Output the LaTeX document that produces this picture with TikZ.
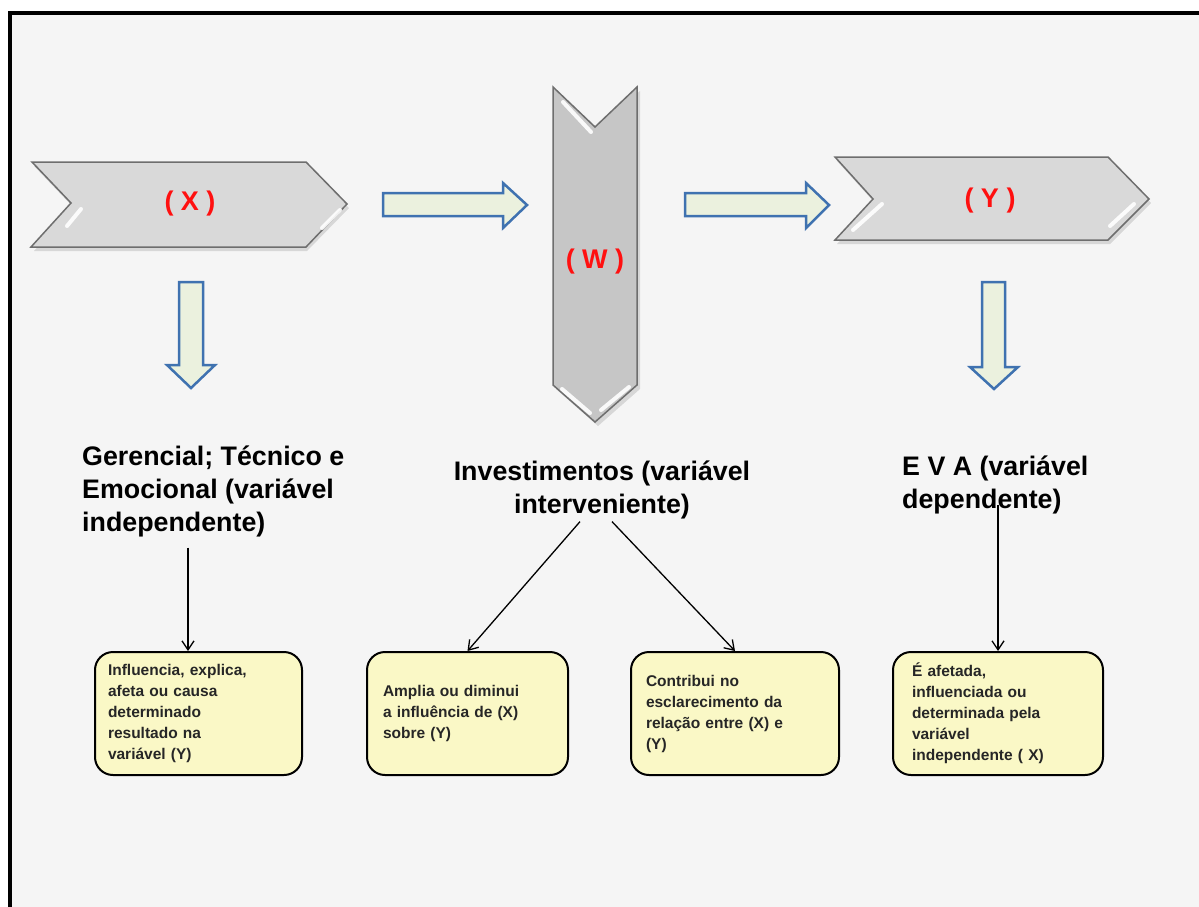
\documentclass[tikz,border=0pt]{standalone}
\usepackage{fontspec}
\setmainfont{Liberation Sans}
\usetikzlibrary{arrows.meta}

\definecolor{panel}{HTML}{F5F5F5}
\definecolor{chevfill}{HTML}{D9D9D9}
\definecolor{chevdark}{HTML}{C6C6C6}
\definecolor{chevline}{HTML}{6E6E6E}
\definecolor{arrowfill}{HTML}{EBF1DE}
\definecolor{arrowline}{HTML}{3F72B0}
\definecolor{notefill}{HTML}{FAF8C6}
\definecolor{labelred}{HTML}{FF1010}

\tikzset{
  chevron/.style={draw=chevline, line width=1.5pt, line join=miter},
  chevshadow/.style={fill=black, opacity=0.12},
  gloss/.style={white, line width=4pt, line cap=round, opacity=0.9},
  blockarrow/.style={fill=arrowfill, draw=arrowline, line width=2.5pt, line join=miter},
  varlabel/.style={text=labelred, font=\fontsize{27}{30}\selectfont\bfseries, inner sep=0pt},
  heading/.style={font=\fontsize{26.8}{33}\selectfont\bfseries, inner sep=0pt, text=black},
  note/.style={draw=black, line width=2pt, fill=notefill, rounded corners=18pt,
    minimum height=123pt, align=left, inner ysep=0pt,
    font=\fontsize{15.5}{21}\selectfont\bfseries, text=black!85},
  link/.style={-{Straight Barb[length=9pt,width=12pt]}, line width=1.3pt, black}
}

\begin{document}
\begin{tikzpicture}[x=1pt, y=-1pt]
\useasboundingbox (0,0) rectangle (1199,906);
\clip (0,0) rectangle (1199,906);

% frame and panel
\fill[white] (0,0) rectangle (1199,906);
\fill[panel] (10,13) rectangle (1210,920);
\draw[line width=4.5pt, line join=miter] (10,920) -- (10,13) -- (1210,13);

% chevron X
\fill[chevshadow] (34,166) -- (307,166) -- (349,208) -- (307,251) -- (34,251) -- (74,208) -- cycle;
\draw[chevron, fill=chevfill] (32,162) -- (306,162) -- (347,204) -- (306,247) -- (31,247) -- (71,203) -- cycle;
\draw[gloss] (81,209) -- (67,226);
\draw[gloss] (340,210) -- (322,228);
\node[varlabel] (x) at (190,204) {( X )};

% chevron W
\fill[chevshadow] (556,91) -- (598,131) -- (640,91) -- (640,389) -- (598,426) -- (556,389) -- cycle;
\draw[chevron, fill=chevdark] (553,87) -- (595,127) -- (637,87) -- (637,385) -- (595,422) -- (553,385) -- cycle;
\draw[gloss] (563,102) -- (591,132);
\draw[gloss] (562,389) -- (590,413);
\draw[gloss] (629,387) -- (601,410);
\node[varlabel] (w) at (595,262) {( W )};

% chevron Y
\fill[chevshadow] (837,161) -- (1110,161) -- (1151,203) -- (1110,244) -- (837,244) -- (875,203) -- cycle;
\draw[chevron, fill=chevfill] (835,157) -- (1108,157) -- (1149,199) -- (1108,240) -- (835,240) -- (873,199) -- cycle;
\draw[gloss] (882,204) -- (853,230);
\draw[gloss] (1134,204) -- (1110,226);
\node[varlabel] (y) at (990,201) {( Y )};

% block arrows
\draw[blockarrow] (383,193) -- (503,193) -- (503,183) -- (527,205) -- (503,228) -- (503,216) -- (383,216) -- cycle;
\draw[blockarrow] (685,193) -- (806,193) -- (806,183) -- (829,205) -- (806,228) -- (806,216) -- (685,216) -- cycle;
\draw[blockarrow] (179,282) -- (203,282) -- (203,365) -- (215,365) -- (191,388) -- (167,365) -- (179,365) -- cycle;
\draw[blockarrow] (982,282) -- (1005,282) -- (1005,367) -- (1018,367) -- (994,389) -- (970,367) -- (982,367) -- cycle;

% headings
\node[heading, anchor=north west, align=left] (h1) at (82,446)
  {Gerencial; Técnico e\\Emocional (variável\\independente)};
\node[heading, anchor=north, align=center] (h2) at (602,461)
  {Investimentos (variável\\interveniente)};
\node[heading, anchor=north west, align=left] (h3) at (902,456)
  {E V A (variável\\dependente)};

% notes
\node[note, minimum width=207pt, text width=181pt, inner xsep=13pt] (n1) at (198.5,713.5)
  {Influencia, explica,\\afeta ou causa\\determinado\\resultado na\\variável (Y)};
\node[note, minimum width=201pt, text width=169pt, inner xsep=16pt] (n2) at (467.5,713.5)
  {Amplia ou diminui\\a influência de (X)\\sobre (Y)};
\node[note, minimum width=208pt, text width=178pt, inner xsep=15pt] (n3) at (735,713.5)
  {Contribui no\\esclarecimento da\\relação entre (X) e\\(Y)};
\node[note, minimum width=210pt, text width=172pt, inner xsep=19pt] (n4) at (998,713.5)
  {É afetada,\\influenciada ou\\determinada pela\\variável\\independente ( X)};

% connectors
\draw[link] ([xshift=106pt,yshift=-10pt]h1.south west) -- ([xshift=106pt]h1.south west |- n1.north);
\draw[link] ([xshift=-22pt,yshift=-2pt]h2.south) -- (n2.north);
\draw[link] ([xshift=10pt,yshift=-2pt]h2.south) -- (n3.north);
\draw[link] ([yshift=10pt]n4.north |- h3.south) -- (n4.north);

\end{tikzpicture}
\end{document}
